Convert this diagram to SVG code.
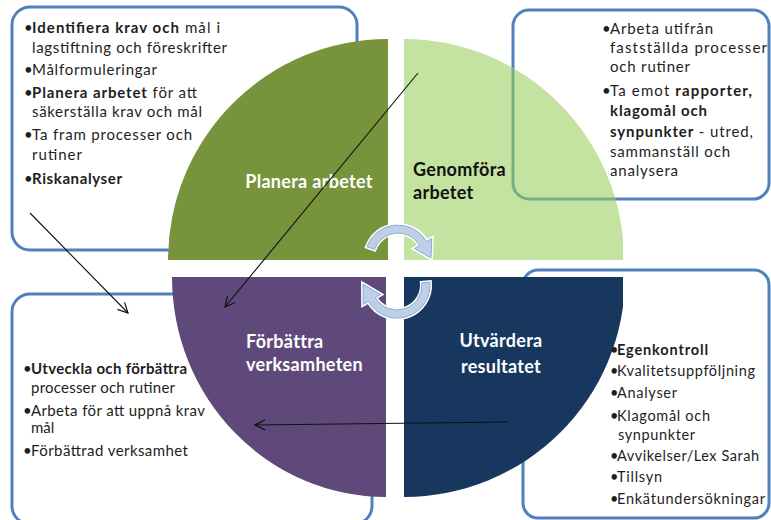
<svg xmlns="http://www.w3.org/2000/svg" width="771" height="520" viewBox="0 0 771 520">
<style>
.box{fill:#fff;stroke:#4F81BD;stroke-width:3}
.boxin{fill:none;stroke:#76AD86;stroke-width:3}
.t{font-family:Lato,"Liberation Sans",sans-serif;font-size:15px;fill:#1e1e1e}
.ts{font-family:Lato,"Liberation Sans",sans-serif;font-size:14.5px;fill:#1e1e1e}
.b{font-weight:bold}
.lab{font-family:Lato,"Liberation Sans",sans-serif;font-size:18px;font-weight:bold;letter-spacing:0.3px}
.cyc{fill:#BDD0E8;stroke:#8FAAD0;stroke-width:1}
.halo{fill:none;stroke:#fff;stroke-width:4}
.con{fill:none;stroke:#111;stroke-width:1.1;marker-end:url(#v)}
</style>
<defs>
<marker id="v" viewBox="0 0 12 12" refX="11" refY="6" markerWidth="12" markerHeight="12" markerUnits="userSpaceOnUse" orient="auto">
<path d="M1,1 L11,6 L1,11" fill="none" stroke="#111" stroke-width="1.2"/>
</marker>
<clipPath id="cr"><rect x="0" y="0" width="623" height="520"/></clipPath>
<clipPath id="cq2"><path d="M404,260 L404,39 A220,221 0 0 1 624,260 Z"/></clipPath>
</defs>

<g id="box-planera">
<rect class="box" x="12" y="7" width="345" height="243" rx="18"/>
</g>
<g id="box-genomfora">
<rect class="box" x="513" y="10" width="256" height="189" rx="16"/>
</g>
<g id="box-forbattra">
<rect class="box" x="12" y="294" width="360" height="230" rx="18"/>
</g>
<g id="box-utvardera">
<rect class="box" x="523" y="270" width="246" height="248" rx="15"/>
</g>

<g id="wheel" clip-path="url(#cr)">
<g id="q-planera">
<path d="M388,260 L168,260 A220,221 0 0 1 388,39 Z" fill="#77933C"/>
<text class="lab" x="309" y="188" text-anchor="middle" fill="#fff">Planera arbetet</text>
</g>
<g id="q-genomfora">
<path d="M404,260 L404,39 A220,221 0 0 1 624,260 Z" fill="#C4E3A1"/>
<rect class="boxin" x="513" y="10" width="256" height="189" rx="16" clip-path="url(#cq2)"/>
<text class="lab" x="413" y="176" fill="#111">Genomföra</text>
<text class="lab" x="413" y="199" fill="#111">arbetet</text>
</g>
<g id="q-forbattra">
<path d="M386,277 L386,497 A214,220 0 0 1 172,277 Z" fill="#5F497A"/>
<text class="lab" x="246" y="348" fill="#fff">Förbättra</text>
<text class="lab" x="246" y="371" fill="#fff">verksamheten</text>
</g>
<g id="q-utvardera">
<path d="M404,277 L625,277 A221,220 0 0 1 404,497 Z" fill="#17375E"/>
<text class="lab" x="501" y="347" text-anchor="middle" fill="#fff">Utvärdera</text>
<text class="lab" x="501" y="373" text-anchor="middle" fill="#fff">resultatet</text>
</g>
</g>

<g id="cycle">
<path class="halo" d="M366.99,246.71 A33,33 0 0 1 426.58,241.5 L431.77,238.5 L431,258 L414.45,248.5 L419.65,245.5 A25,25 0 0 0 374.51,249.45 Z"/>
<path class="cyc" d="M366.99,246.71 A33,33 0 0 1 426.58,241.5 L431.77,238.5 L431,258 L414.45,248.5 L419.65,245.5 A25,25 0 0 0 374.51,249.45 Z"/>
<path class="halo" d="M429.9,282.1 A33,33 0 0 1 368.4,301.5 L363.2,304.5 L363,284 L380.55,294.5 L375.35,297.5 A25,25 0 0 0 421.9,282.8 Z"/>
<path class="cyc" d="M429.9,282.1 A33,33 0 0 1 368.4,301.5 L363.2,304.5 L363,284 L380.55,294.5 L375.35,297.5 A25,25 0 0 0 421.9,282.8 Z"/>
</g>

<g id="text-planera">
<text class="t" x="24" y="33">•</text><text class="t" x="32" y="33" textLength="188" lengthAdjust="spacing"><tspan class="b">Identifiera krav och</tspan> mål i</text>
<text class="t" x="32" y="53" textLength="195" lengthAdjust="spacing">lagstiftning och föreskrifter</text>
<text class="t" x="24" y="75">•</text><text class="t" x="32" y="75" textLength="125" lengthAdjust="spacing">Målformuleringar</text>
<text class="t" x="24" y="98">•</text><text class="t" x="32" y="98" textLength="165" lengthAdjust="spacing"><tspan class="b">Planera arbetet</tspan> för att</text>
<text class="t" x="32" y="117" textLength="170" lengthAdjust="spacing">säkerställa krav och mål</text>
<text class="t" x="24" y="140">•</text><text class="t" x="32" y="140" textLength="160" lengthAdjust="spacing">Ta fram processer och</text>
<text class="t" x="32" y="160" textLength="50" lengthAdjust="spacing">rutiner</text>
<text class="t" x="24" y="184">•</text><text class="t b" x="32" y="184" textLength="90" lengthAdjust="spacing">Riskanalyser</text>
</g>

<g id="text-genomfora">
<text class="t" x="602" y="34">•</text><text class="t" x="610" y="34" textLength="103" lengthAdjust="spacing">Arbeta utifrån</text>
<text class="t" x="610" y="53" textLength="157" lengthAdjust="spacing">fastställda processer</text>
<text class="t" x="610" y="72" textLength="80" lengthAdjust="spacing">och rutiner</text>
<text class="t" x="602" y="96">•</text><text class="t" x="610" y="96" textLength="142" lengthAdjust="spacing">Ta emot <tspan class="b">rapporter,</tspan></text>
<text class="t b" x="610" y="116" textLength="97" lengthAdjust="spacing">klagomål och</text>
<text class="t" x="610" y="137" textLength="143" lengthAdjust="spacing"><tspan class="b">synpunkter</tspan> - utred,</text>
<text class="t" x="610" y="157" textLength="120" lengthAdjust="spacing">sammanställ och</text>
<text class="t" x="610" y="176" textLength="68" lengthAdjust="spacing">analysera</text>
</g>

<g id="text-forbattra">
<text class="t" x="23" y="374">•</text><text class="t b" x="31" y="374" textLength="156" lengthAdjust="spacing">Utveckla och förbättra</text>
<text class="t" x="31" y="393" textLength="144" lengthAdjust="spacing">processer och rutiner</text>
<text class="t" x="23" y="416">•</text><text class="t" x="31" y="416" textLength="174" lengthAdjust="spacing">Arbeta för att uppnå krav</text>
<text class="t" x="31" y="433">mål</text>
<text class="t" x="23" y="456">•</text><text class="t" x="31" y="456" textLength="157" lengthAdjust="spacing">Förbättrad verksamhet</text>
</g>

<g id="text-utvardera">
<text class="ts" x="610" y="355">•</text><text class="ts b" x="617" y="355" textLength="91" lengthAdjust="spacing">Egenkontroll</text>
<text class="ts" x="610" y="376">•</text><text class="ts" x="617" y="376" textLength="138" lengthAdjust="spacing">Kvalitetsuppföljning</text>
<text class="ts" x="610" y="398">•</text><text class="ts" x="617" y="398" textLength="60" lengthAdjust="spacing">Analyser</text>
<text class="ts" x="610" y="421">•</text><text class="ts" x="617" y="421" textLength="93" lengthAdjust="spacing">Klagomål och</text>
<text class="ts" x="618" y="440" textLength="77" lengthAdjust="spacing">synpunkter</text>
<text class="ts" x="610" y="461">•</text><text class="ts" x="617" y="461" textLength="142" lengthAdjust="spacing">Avvikelser/Lex Sarah</text>
<text class="ts" x="610" y="482">•</text><text class="ts" x="617" y="482" textLength="45" lengthAdjust="spacing">Tillsyn</text>
<text class="ts" x="610" y="504">•</text><text class="ts" x="617" y="504" textLength="148" lengthAdjust="spacing">Enkätundersökningar</text>
</g>

<g id="connectors">
<path class="con" d="M30,213 L128,313"/>
<path class="con" d="M418,73 L225,307"/>
<path class="con" d="M507,422 L255,425"/>
</g>
</svg>
